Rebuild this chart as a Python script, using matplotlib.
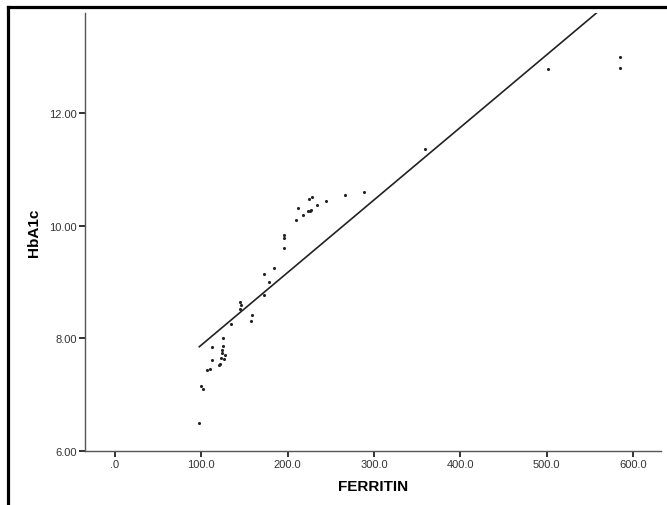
import numpy as np
import matplotlib
matplotlib.use("Agg")
import matplotlib.pyplot as plt
from matplotlib.lines import Line2D

# ---- data ----
ferritin = [97.7, 99.7, 102.0, 106.3, 110.1, 112.0, 112.7, 120.0, 121.2, 122.4,
            125.9, 124.0, 124.0, 127.1, 124.8, 125.5, 134.6, 144.8, 145.6, 144.8,
            157.6, 158.8, 173.0, 172.7, 178.0, 184.6, 195.4, 195.4, 196.1, 209.3,
            211.6, 217.8, 223.6, 225.5, 227.1, 224.4, 228.3, 234.5, 244.5, 266.5,
            288.5, 359.0, 501.7, 585.2, 585.2]
hba1c = [6.50, 7.15, 7.10, 7.43, 7.45, 7.84, 7.61, 7.52, 7.54, 7.65,
         7.64, 7.80, 7.74, 7.71, 7.86, 8.00, 8.25, 8.65, 8.59, 8.52,
         8.30, 8.42, 8.76, 9.14, 9.00, 9.24, 9.60, 9.77, 9.84, 10.10,
         10.31, 10.18, 10.25, 10.26, 10.27, 10.47, 10.50, 10.36, 10.43, 10.54,
         10.60, 11.35, 12.77, 12.99, 12.79]

x_tick_values = [0, 100, 200, 300, 400, 500, 600]
x_tick_labels = [".0", "100.0", "200.0", "300.0", "400.0", "500.0", "600.0"]
y_tick_values = [6.0, 8.0, 10.0, 12.0]
y_tick_labels = ["6.00", "8.00", "10.00", "12.00"]

x_label = "FERRITIN"
y_label = "HbA1c"

plt.rcParams['font.family'] = ['Liberation Sans', 'DejaVu Sans']

fig = plt.figure(figsize=(6.67, 5.06), dpi=100)
W, H = 667, 506
ax = fig.add_axes([85.3 / W, (H - 452) / H, (661 - 85.3) / W, (452 - 14) / H])

x = np.array(ferritin)
y = np.array(hba1c)
ax.scatter(x, y, s=5, color='#222222', marker='o', linewidths=0, zorder=3)

# regression line over the data range
b, a = np.polyfit(x, y, 1)
xs = np.array([x.min(), x.max()])
ax.plot(xs, a + b * xs, color='#222222', linewidth=1.2, zorder=2)

ax.set_xlim(-34.4, 632.6)
ax.set_ylim(6.0, 13.77)

ax.set_xticks(x_tick_values)
ax.set_xticklabels(x_tick_labels)
ax.set_yticks(y_tick_values)
ax.set_yticklabels(y_tick_labels)

for s in ['top', 'right']:
    ax.spines[s].set_visible(False)
for s in ['left', 'bottom']:
    ax.spines[s].set_color('#555555')
    ax.spines[s].set_linewidth(1.0)

ax.tick_params(axis='both', direction='out', length=4.5, width=1.3,
               color='#222222', labelsize=8, labelcolor='#333333', pad=1.5)

ax.set_xlabel(x_label, fontsize=11, fontweight='bold', labelpad=7)
ax.set_ylabel(y_label, fontsize=11, fontweight='bold', labelpad=6)

# outer frame (left and top)
fig.add_artist(Line2D([7.5 / W, 7.5 / W], [0, 1 - 7.5 / H], transform=fig.transFigure,
                      color='black', linewidth=2.3, solid_capstyle='projecting'))
fig.add_artist(Line2D([7.5 / W, 1], [1 - 7.5 / H, 1 - 7.5 / H], transform=fig.transFigure,
                      color='black', linewidth=2.3, solid_capstyle='projecting'))

fig.savefig("out.png", dpi=100)
